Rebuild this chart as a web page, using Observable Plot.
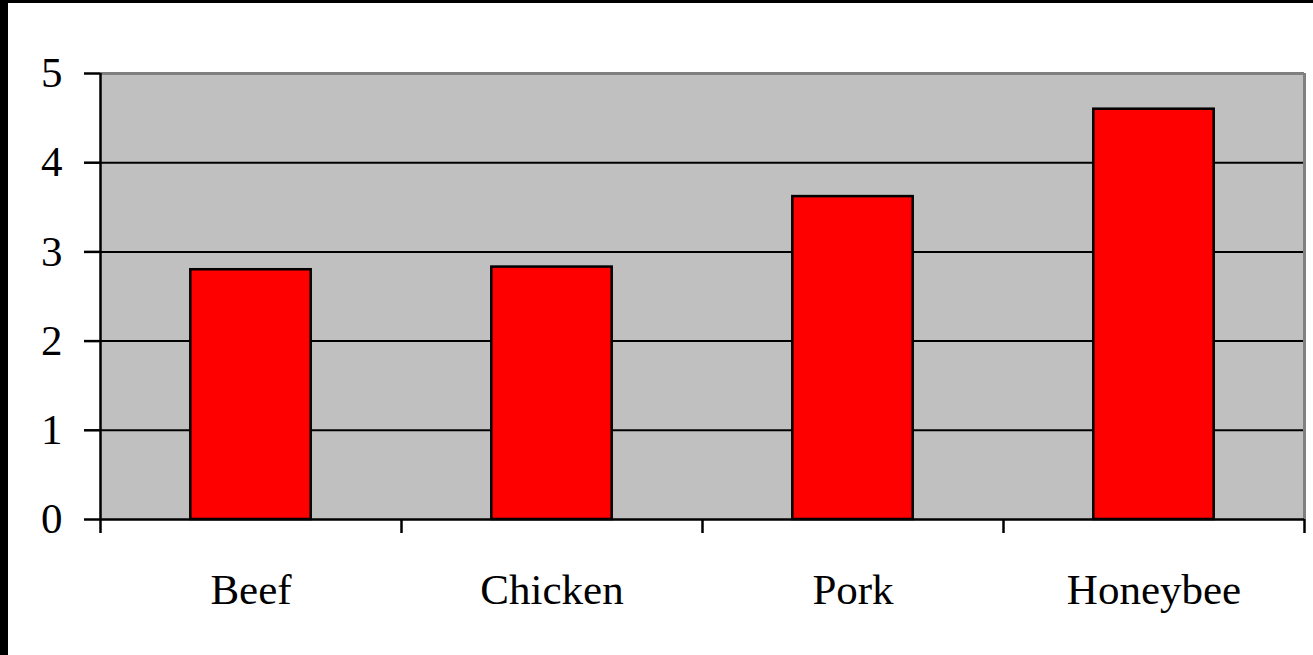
<!DOCTYPE html>
<html>
<head>
<meta charset="utf-8">
<script src="https://cdn.jsdelivr.net/npm/d3@7"></script>
<script src="https://cdn.jsdelivr.net/npm/@observablehq/plot@0.6"></script>
<style>
  html, body { margin: 0; padding: 0; background: #000; }
  #chart { position: absolute; left: 8px; top: 3px; width: 1305px; height: 652px; background: #fff; }
  #chart svg { display: block; }
</style>
</head>
<body>
<div id="chart"></div>
<script>
// Categories and their values
const categories = ["Beef", "Chicken", "Pork", "Honeybee"];
const values = [2.80, 2.83, 3.62, 4.60];
const yTicks = [0, 1, 2, 3, 4, 5];
const gridValues = [1, 2, 3, 4];

const data = categories.map((c, i) => ({category: c, value: values[i]}));

const W = 1305, H = 652;
const mL = 92, mR = 9, mT = 70, mB = 136;
const step = (W - mL - mR) / categories.length;
const last = categories[categories.length - 1];

const font = "'Liberation Serif', 'Times New Roman', serif";

const chart = Plot.plot({
  width: W,
  height: H,
  marginLeft: mL,
  marginRight: mR,
  marginTop: mT,
  marginBottom: mB,
  style: {fontFamily: font, fontSize: "43px", color: "#000", background: "#fff"},
  x: {domain: categories, paddingInner: 0.6, paddingOuter: 0.3, round: false, label: null},
  y: {domain: [0, 5], label: null},
  marks: [
    Plot.frame({fill: "#c0c0c0", stroke: null}),
    // horizontal gridlines
    Plot.ruleY(gridValues, {stroke: "#000", strokeWidth: 2}),
    // top and right plot-area borders
    Plot.ruleY([5], {stroke: "#808080", strokeWidth: 3}),
    Plot.ruleX([last], {dx: step / 2, y1: 0, y2: 5, stroke: "#808080", strokeWidth: 3}),
    // bars
    Plot.barY(data, {x: "category", y: "value", fill: "#ff0000", stroke: "#000", strokeWidth: 2.5}),
    // axis lines
    Plot.ruleY([0], {stroke: "#000", strokeWidth: 2.5}),
    Plot.ruleX([categories[0]], {dx: -step / 2, y1: 0, y2: 5, stroke: "#000", strokeWidth: 2.5}),
    // x ticks at category boundaries (left edge of each band, right edge of the last)
    Plot.ruleX(categories, {dx: -step / 2, y1: 0, y2: 0, insetBottom: -14, stroke: "#000", strokeWidth: 2.5}),
    Plot.ruleX([last], {dx: step / 2, y1: 0, y2: 0, insetBottom: -14, stroke: "#000", strokeWidth: 2.5}),
    // y axis with outward ticks
    Plot.axisY(yTicks, {tickSize: 16, tickPadding: 22, strokeWidth: 2.5, fontSize: 43, tickFormat: d3.format("d")}),
    // category labels
    Plot.axisX({tickSize: 0, tickPadding: 54, fontSize: 43})
  ]
});

document.getElementById("chart").append(chart);
</script>
</body>
</html>
